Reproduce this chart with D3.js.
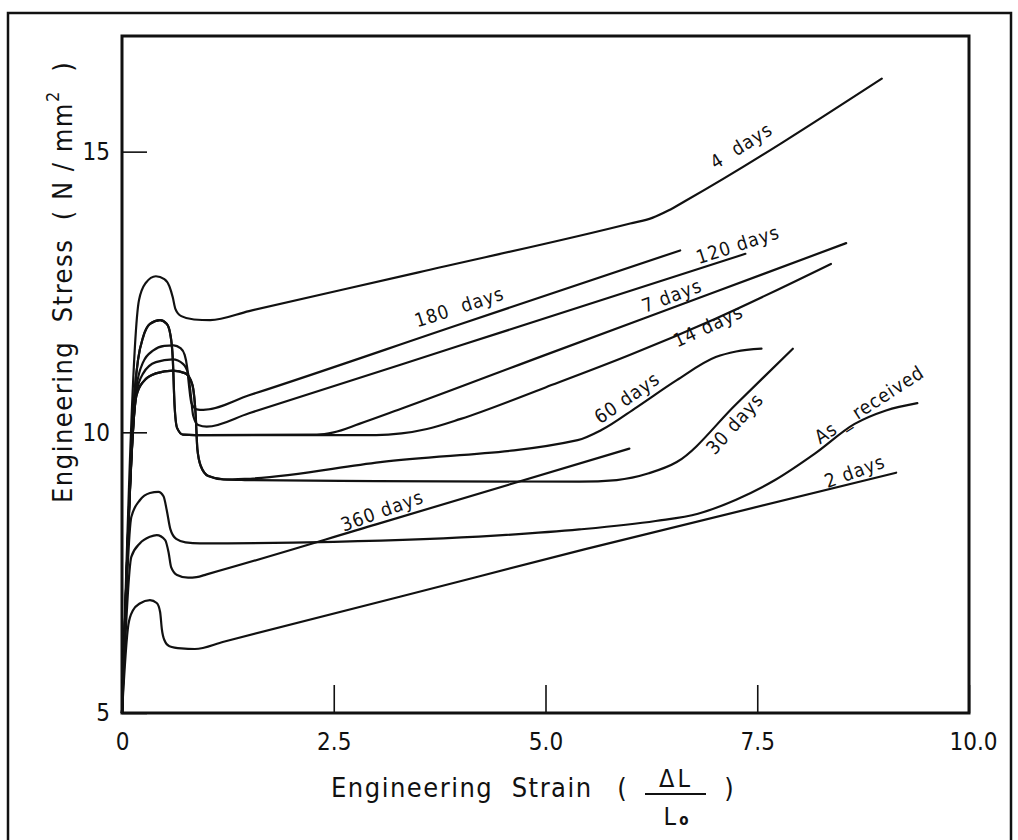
<!DOCTYPE html>
<html>
<head>
<meta charset="utf-8">
<script src="https://cdn.jsdelivr.net/npm/d3@7"></script>
<style>
  html, body { margin: 0; padding: 0; background: #fff; }
  svg { display: block; font-family: "DejaVu Sans Condensed", "DejaVu Sans", sans-serif; }
</style>
</head>
<body>
<script>
// strain (x) / stress (y) pairs
const days4 = [[0,5],[0.2,12.35],[0.28,12.66],[0.4,12.78],[0.5,12.73],[0.56,12.6],[0.6,12.4],[0.63,12.2],[0.7,12.07],[0.85,12.01],[1.04,12.0],[1.5,12.16],[3.5,12.85],[6.0,13.72],[6.26,13.82],[6.45,13.95],[6.65,14.12],[8.97,16.3]]
const days7 = [[0,5],[0.15,10.75],[0.19,11.3],[0.25,11.7],[0.33,11.93],[0.45,12.0],[0.53,11.93],[0.57,11.75],[0.6,11.3],[0.62,10.5],[0.65,10.08],[0.72,9.96],[1.0,9.95],[2.3,9.96],[2.5,10.0],[2.8,10.15],[3.28,10.41],[5.0,11.38],[7.0,12.5],[8.55,13.37]]
const days14 = [[0,5],[0.15,10.75],[0.19,11.3],[0.25,11.7],[0.33,11.93],[0.45,12.0],[0.53,11.93],[0.57,11.75],[0.6,11.3],[0.62,10.5],[0.65,10.08],[0.72,9.96],[1.0,9.95],[3.0,9.95],[3.3,9.98],[3.6,10.06],[4.0,10.24],[5.0,10.8],[6.0,11.38],[7.0,12.02],[8.37,13.0]]
const days180 = [[0,5],[0.17,10.8],[0.25,11.25],[0.37,11.46],[0.5,11.54],[0.61,11.55],[0.69,11.5],[0.74,11.38],[0.77,11.15],[0.79,10.85],[0.82,10.52],[0.88,10.41],[0.96,10.4],[1.5,10.66],[4.0,11.93],[6.59,13.24]]
const days120 = [[0,5],[0.17,10.7],[0.25,11.05],[0.4,11.25],[0.6,11.3],[0.72,11.22],[0.78,11.05],[0.81,10.7],[0.84,10.3],[0.9,10.13],[1.0,10.1],[1.5,10.34],[4.0,11.55],[7.36,13.18]]
const days60 = [[0,5],[0.17,10.65],[0.25,10.9],[0.4,11.05],[0.6,11.1],[0.75,11.05],[0.83,10.85],[0.87,10.3],[0.89,9.7],[0.93,9.4],[1.02,9.22],[1.2,9.16],[1.45,9.17],[3.05,9.47],[5.38,9.86],[5.66,10.04],[6.08,10.45],[6.55,10.93],[7.01,11.34],[7.25,11.44],[7.55,11.49]]
const days30 = [[0,5],[0.17,10.65],[0.25,10.9],[0.4,11.05],[0.6,11.1],[0.75,11.05],[0.83,10.85],[0.87,10.3],[0.89,9.7],[0.93,9.4],[1.02,9.22],[1.2,9.16],[1.45,9.15],[3.0,9.13],[5.4,9.12],[5.84,9.15],[6.22,9.27],[6.55,9.47],[7.25,10.5],[7.92,11.49]]
const days360 = [[0,5],[0.11,7.78],[0.21,8.02],[0.33,8.14],[0.41,8.17],[0.51,8.08],[0.55,7.86],[0.58,7.6],[0.65,7.46],[0.78,7.41],[0.88,7.42],[1.0,7.47],[3.0,8.36],[5.99,9.71]]
const asReceived = [[0,5],[0.11,8.49],[0.21,8.79],[0.33,8.92],[0.43,8.94],[0.49,8.86],[0.53,8.6],[0.57,8.28],[0.64,8.1],[0.75,8.04],[0.92,8.02],[2.5,8.05],[4.4,8.16],[5.4,8.27],[6.3,8.42],[6.8,8.55],[7.25,8.8],[7.71,9.15],[8.18,9.62],[8.65,10.15],[9.02,10.39],[9.39,10.52]]
const days2 = [[0,5],[0.075,6.57],[0.13,6.83],[0.21,6.95],[0.33,7.01],[0.41,6.96],[0.45,6.8],[0.47,6.5],[0.5,6.3],[0.56,6.19],[0.7,6.15],[0.86,6.14],[1.2,6.27],[3.28,7.07],[5.47,7.92],[9.14,9.28]]

const allSeries = [days4, days7, days14, days180, days120, days60, days30, days360, asReceived, days2]

const xTickValues = [0, 2.5, 5, 7.5, 10]
const xTickLabels = ['0', '2.5', '5.0', '7.5', '10.0']
const yTickValues = [5, 10, 15]
const yTickLabels = ['5', '10', '15']

// curve names with where they sit on the chart (in data units) and their tilt
const labelNames = ['4  days', '180  days', '120 days', '7 days', '14 days', '60 days', '30 days', 'As _ received', '2 days', '360 days']
const labelX = [7.31, 3.98, 7.27, 6.49, 6.92, 5.96, 7.23, 8.82, 8.65, 3.07]
const labelY = [15.11, 12.24, 13.35, 12.44, 11.9, 10.62, 10.16, 10.5, 9.31, 8.61]
const labelTilt = [-32, -18, -18, -21, -25, -35, -48, -33, -20, -20]

const w = 1018
const h = 840

const svg = d3.select('body').append('svg')
    .attr('width', w)
    .attr('height', h)

const x = d3.scaleLinear().domain([0, 10]).range([122, 969])
const y = d3.scaleLinear().domain([5, 17.06]).range([713, 36])

// outer border of the scanned figure
svg.append('rect')
    .attr('x', 8).attr('y', 13)
    .attr('width', 1003).attr('height', 860)
    .attr('fill', 'none')
    .attr('stroke', '#111')
    .attr('stroke-width', 2.5)

const xAxis = d3.axisBottom(x)
    .tickValues(xTickValues)
    .tickFormat((d, i) => xTickLabels[i])
    .tickSize(-28)
    .tickPadding(20)

const yAxis = d3.axisLeft(y)
    .tickValues(yTickValues)
    .tickFormat((d, i) => yTickLabels[i])
    .tickSize(-25)
    .tickPadding(12)

const gx = svg.append('g')
    .attr('transform', `translate(0, ${y(5)})`)
    .call(xAxis)
gx.select('.domain').remove()
gx.selectAll('line').attr('stroke', '#111').attr('stroke-width', 1.6)
gx.selectAll('text')
    .attr('font-family', '"DejaVu Sans Condensed", sans-serif')
    .attr('font-size', 24)
    .attr('fill', '#111')
gx.selectAll('.tick').filter(d => d === 10).select('text').attr('dx', 4)

const gy = svg.append('g')
    .attr('transform', `translate(${x(0)}, 0)`)
    .call(yAxis)
gy.select('.domain').remove()
gy.selectAll('line').attr('stroke', '#111').attr('stroke-width', 1.6)
gy.selectAll('text')
    .attr('font-family', '"DejaVu Sans Condensed", sans-serif')
    .attr('font-size', 24)
    .attr('fill', '#111')

// plot frame
svg.append('rect')
    .attr('x', x(0)).attr('y', y(17.06))
    .attr('width', x(10) - x(0)).attr('height', y(5) - y(17.06))
    .attr('fill', 'none')
    .attr('stroke', '#111')
    .attr('stroke-width', 3)

const line = d3.line()
    .x(d => x(d[0]))
    .y(d => y(d[1]))
    .curve(d3.curveMonotoneX)

svg.append('g')
    .selectAll('path')
    .data(allSeries)
    .enter()
    .append('path')
    .attr('d', line)
    .attr('fill', 'none')
    .attr('stroke', '#111')
    .attr('stroke-width', 2.2)
    .attr('stroke-linejoin', 'round')
    .attr('stroke-linecap', 'round')

svg.append('g')
    .selectAll('text')
    .data(labelNames)
    .enter()
    .append('text')
    .attr('transform', (d, i) => `translate(${x(labelX[i])}, ${y(labelY[i])}) rotate(${labelTilt[i]})`)
    .attr('text-anchor', 'middle')
    .attr('dominant-baseline', 'central')
    .attr('font-size', 19)
    .attr('letter-spacing', 1)
    .style('white-space', 'pre')
    .attr('fill', '#111')
    .text(d => d)

// y title
const yTitle = svg.append('text')
    .attr('transform', 'translate(72, 503) rotate(-90)')
    .attr('font-size', 27)
    .attr('letter-spacing', 1.5)
    .attr('fill', '#111')
    .style('white-space', 'pre')
yTitle.append('tspan').text('Engineering  Stress  ( N / mm')
yTitle.append('tspan').attr('dy', -13).attr('font-size', 18).text('2')
yTitle.append('tspan').attr('dy', 13).text('  )')

// x title with the ΔL / Lo fraction
svg.append('text')
    .attr('x', 331).attr('y', 797)
    .attr('font-size', 27)
    .attr('letter-spacing', 1.5)
    .attr('fill', '#111')
    .style('white-space', 'pre')
    .text('Engineering  Strain')
svg.append('text')
    .attr('x', 622).attr('y', 797)
    .attr('text-anchor', 'middle')
    .attr('font-size', 27)
    .attr('fill', '#111')
    .text('(')
svg.append('text')
    .attr('x', 729).attr('y', 797)
    .attr('text-anchor', 'middle')
    .attr('font-size', 27)
    .attr('fill', '#111')
    .text(')')
svg.append('text')
    .attr('x', 676).attr('y', 787)
    .attr('text-anchor', 'middle')
    .attr('font-size', 25)
    .attr('letter-spacing', 3)
    .attr('fill', '#111')
    .text('ΔL')
svg.append('line')
    .attr('x1', 645).attr('x2', 706)
    .attr('y1', 794).attr('y2', 794)
    .attr('stroke', '#111')
    .attr('stroke-width', 2)
const lo = svg.append('text')
    .attr('x', 676).attr('y', 825)
    .attr('text-anchor', 'middle')
    .attr('font-size', 25)
    .attr('fill', '#111')
lo.append('tspan').text('L')
lo.append('tspan').attr('font-size', 15).attr('font-weight', 'bold').attr('dx', 3).text('o')
</script>
</body>
</html>
